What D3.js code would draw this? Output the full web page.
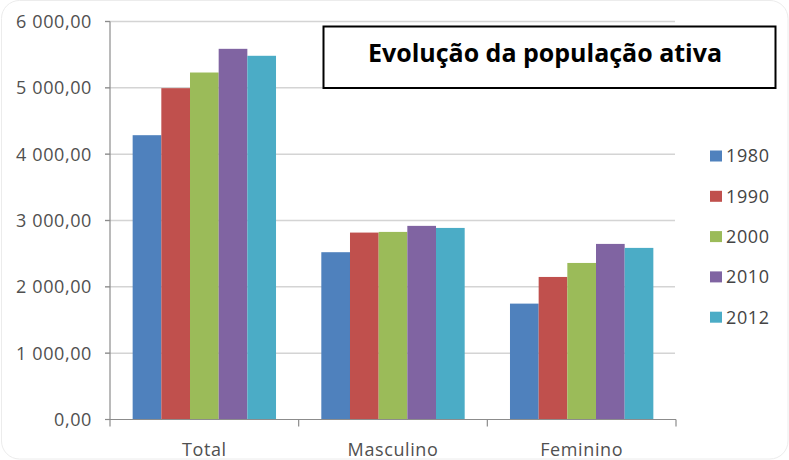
<!DOCTYPE html>
<html><head><meta charset="utf-8">
<script src="https://cdn.jsdelivr.net/npm/d3@7"></script>
<style>body{margin:0;background:#fff}svg{display:block}</style>
</head><body>
<svg id="c" width="789" height="460"></svg>
<script>
const categories = ["Total", "Masculino", "Feminino"];
const years = ["1980", "1990", "2000", "2010", "2012"];
const v1980 = [4286, 2522, 1747];
const v1990 = [4995, 2818, 2149];
const v2000 = [5231, 2828, 2360];
const v2010 = [5588, 2919, 2647];
const v2012 = [5483, 2888, 2587];
const yTicks = [0, 1000, 2000, 3000, 4000, 5000, 6000];
const colors = ["#4f81bd", "#c0504d", "#9bbb59", "#8064a2", "#4bacc6"];
const title = "Evolução da população ativa";

const series = [v1980, v1990, v2000, v2010, v2012];
const svg = d3.select("#c");
const font = "'Open Sans', sans-serif";
const txtCol = "#505050";
const fsz = 18, ls = 0.6;

// outer rounded border
svg.append("rect").attr("x",1.5).attr("y",0.5).attr("width",786.5).attr("height",458.5)
  .attr("rx",18).attr("fill","none").attr("stroke","#ececec");

const x0 = d3.scaleBand().domain(categories).range([110, 676]);
const x1 = d3.scaleBand().domain(years).range([0, x0.bandwidth()]).paddingInner(0).paddingOuter(0.79);
const y = d3.scaleLinear().domain([0, 6000]).range([419.5, 21.5]);

const fmt = v => d3.formatLocale({decimal:",", thousands:"\u00a0", grouping:[3]}).format(",.2f")(v);

// gridlines
svg.append("g").selectAll("line").data(yTicks.filter(d=>d>0)).join("line")
  .attr("x1",105).attr("x2",675).attr("y1",d=>y(d)).attr("y2",d=>y(d))
  .attr("stroke","#d4d4d4").attr("stroke-width",1.5);

// bars
const g = svg.append("g");
categories.forEach((c, ci) => {
  years.forEach((yr, si) => {
    g.append("rect")
      .attr("x", x0(c) + x1(yr))
      .attr("y", y(series[si][ci]))
      .attr("width", x1.bandwidth())
      .attr("height", y(0) - y(series[si][ci]))
      .attr("fill", colors[si]);
  });
});

// axes lines
svg.append("line").attr("x1",110).attr("x2",110).attr("y1",y(6000)).attr("y2",y(0))
  .attr("stroke","#8c8c8c").attr("stroke-width",1.2);
svg.append("line").attr("x1",105).attr("x2",676).attr("y1",y(0)).attr("y2",y(0))
  .attr("stroke","#8c8c8c").attr("stroke-width",1.2);
svg.append("g").selectAll("line").data(yTicks).join("line")
  .attr("x1",105).attr("x2",110).attr("y1",d=>y(d)).attr("y2",d=>y(d))
  .attr("stroke","#8c8c8c").attr("stroke-width",1.2);
const bounds = categories.map(c=>x0(c)).concat([x0(categories[categories.length-1])+x0.bandwidth()]);
svg.append("g").selectAll("line").data(bounds).join("line")
  .attr("x1",d=>d).attr("x2",d=>d).attr("y1",y(0)).attr("y2",y(0)+7)
  .attr("stroke","#8c8c8c").attr("stroke-width",1.2);

// y labels
svg.append("g").selectAll("text").data(yTicks).join("text")
  .attr("x",92).attr("y",d=>y(d)).attr("dy","0.36em").attr("text-anchor","end")
  .attr("font-family",font).attr("font-size",fsz).attr("letter-spacing",ls)
  .attr("fill",txtCol).text(d=>fmt(d));

// category labels
svg.append("g").selectAll("text").data(categories).join("text")
  .attr("x",d=>x0(d)+x0.bandwidth()/2).attr("y",456).attr("text-anchor","middle")
  .attr("font-family",font).attr("font-size",fsz).attr("letter-spacing",ls)
  .attr("fill",txtCol).text(d=>d);

// legend
const lg = svg.append("g");
years.forEach((yr, i) => {
  const cy = 156 + i*40.3;
  lg.append("rect").attr("x",710).attr("y",cy-5.5).attr("width",12).attr("height",11).attr("fill",colors[i]);
  lg.append("text").attr("x",726).attr("y",cy).attr("dy","0.36em")
    .attr("font-family",font).attr("font-size",fsz).attr("letter-spacing",ls)
    .attr("fill","#444").text(yr);
});

// title box
svg.append("rect").attr("x",323.5).attr("y",26.5).attr("width",452).attr("height",61.5)
  .attr("fill","#fff").attr("stroke","#000").attr("stroke-width",2);
const t = svg.append("text").attr("x",545).attr("y",62).attr("text-anchor","middle")
  .attr("font-family",font).attr("font-weight","bold").attr("font-size",22)
  .attr("fill","#000").text(title);
let fs = 22;
for (let k=0;k<10;k++){ const w = t.node().getComputedTextLength(); fs = fs*354/w; t.attr("font-size",fs); }
</script>
</body></html>
